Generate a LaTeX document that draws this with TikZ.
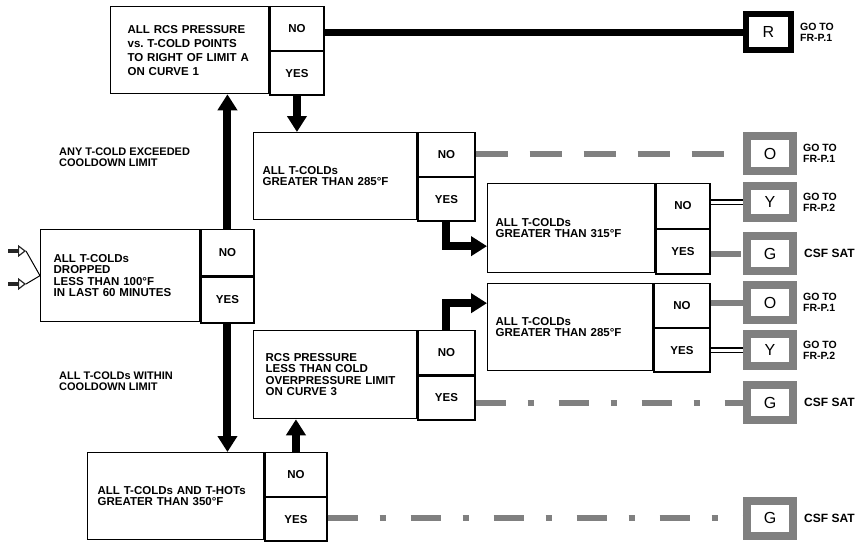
\documentclass[tikz,border=0pt]{standalone}
\usepackage{fontspec}
\setmainfont{Liberation Sans}
\usetikzlibrary{arrows.meta,calc}

\begin{document}
\begin{tikzpicture}[
  x=1pt, y=-1pt,
  font=\bfseries\fontsize{11.5}{11.5}\selectfont,
  qbox/.style={draw, line width=1.3pt, anchor=north west, align=left, inner ysep=0pt},
  cell/.style={draw, line width=1.3pt, anchor=north west, inner sep=0pt},
  bigarrow/.style={line width=8pt, -{Triangle[width=19pt,length=16pt]}},
  feed/.style={line width=3.5pt, gray!30!black, -{Triangle[open, width=12pt, length=8pt, line width=1.2pt]}},
  rline/.style={line width=7pt},
  oline/.style={line width=6pt, black!50, dash pattern=on 32pt off 22pt},
  yline/.style={draw=black, line width=1.1pt, double=white, double distance=3pt},
  gline/.style={line width=6pt, black!50, dash pattern=on 30pt off 22pt on 6pt off 25pt},
  outbox/.style={fill=white, inner sep=0pt, font=\mdseries\fontsize{16}{16}\selectfont},
  rbox/.style={outbox, draw=black, line width=6pt, minimum width=45, minimum height=36},
  obox/.style={outbox, draw=black!50, line width=8pt, minimum width=46, minimum height=35},
  ybox/.style={obox, minimum height=32, path picture={\draw[black, line width=1.4pt] ([xshift=2.5pt,yshift=-2.5pt]path picture bounding box.north west) rectangle ([xshift=-2.5pt,yshift=2.5pt]path picture bounding box.south east);}},
  note/.style={align=left, inner sep=0pt, font=\bfseries\fontsize{11}{11}\selectfont},
  goto/.style={anchor=west, align=left, inner sep=0pt, font=\bfseries\fontsize{10.5}{11}\selectfont},
  sat/.style={anchor=west, inner sep=0pt, font=\bfseries\fontsize{12}{12}\selectfont}
]
\useasboundingbox (0,0) rectangle (859,541);

% decision boxes
\foreach \n/\x/\y/\w/\cw/\h/\p/\t in {
  b1/110/6/158/54/87/17/{ALL RCS PRESSURE\\[2.5pt]vs.\ T-COLD POINTS\\[2.5pt]TO RIGHT OF LIMIT A\\[2.5pt]ON CURVE 1},
  b2/253/132/163/57/87/9/{ALL T-COLDs\\GREATER THAN 285°F},
  b3/40/229/159/53/92/13/{ALL T-COLDs\\DROPPED\\LESS THAN 100°F\\IN LAST 60 MINUTES},
  b4/487/183/167/54/89/8/{ALL T-COLDs\\GREATER THAN 315°F},
  b5/487/283/165/56/87/8/{ALL T-COLDs\\GREATER THAN 285°F},
  b6/253/330/163/57/88/12/{RCS PRESSURE\\LESS THAN COLD\\OVERPRESSURE LIMIT\\ON CURVE 3},
  b7/87/452/176/62/87/10/{ALL T-COLDs AND T-HOTs\\GREATER THAN 350°F}} {
  \node[qbox, minimum width=\w, minimum height=\h, inner xsep=\p, text width=\w-2*\p] (\n) at (\x,\y) {\t};
  \node[cell, minimum width=\cw, minimum height=\h/2] (\n-no) at (\n.north east) {NO};
  \node[cell, minimum width=\cw, minimum height=\h/2] (\n-yes) at (\n-no.south west) {YES};
}

% colour-coded exits
\node[rbox] (r1) at (768.5,32) {R};
\foreach \n/\s/\l/\y in {o1/obox/O/153.5, y1/ybox/Y/202, g1/obox/G/253.5, o2/obox/O/302.5, y2/ybox/Y/350, g2/obox/G/402.5, g3/obox/G/518} {
  \node[\s] (\n) at (770,\y) {\l};
}
\node[goto] (lr1) at ([xshift=6pt]r1.east) {GO TO\\FR-P.1};
\foreach \n/\t in {o1/{GO TO\\FR-P.1}, y1/{GO TO\\FR-P.2}, o2/{GO TO\\FR-P.1}, y2/{GO TO\\FR-P.2}} {
  \node[goto] (l\n) at ([xshift=6pt]\n.east) {\t};
}
\foreach \n in {g1,g2,g3} {
  \node[sat] (l\n) at ([xshift=7pt]\n.east) {CSF SAT};
}

% branch labels
\node[note, anchor=north west] (exceed) at (59,148) {ANY T-COLD EXCEEDED\\COOLDOWN LIMIT};
\node[note, anchor=north west] (within) at (59,372) {ALL T-COLDs WITHIN\\COOLDOWN LIMIT};

% entry
\coordinate (in1) at (8,251);
\coordinate (k1) at (26,251);
\coordinate (in2) at (8,284);
\coordinate (k2) at (26,284);
\draw[feed] (in1) -- (k1);
\draw[feed] (in2) -- (k2);
\draw[line width=1pt] (k1) -- (b3.west) -- (k2);

% flow arrows
\draw[bigarrow] (b1-yes.south) -- (b1-yes.south |- b2.north);
\draw[bigarrow] (b3-no.north) -- (b3-no.north |- b1.south);
\draw[bigarrow] (b3-yes.south) -- (b3-yes.south |- b7.north);
\draw[bigarrow] (b2-yes.south) |- ($(b4.west)+(0,18)$);
\draw[bigarrow] (b6-no.north) |- ($(b5.west)+(0,-24)$);
\draw[bigarrow] (b7-no.north) -- (b7-no.north |- b6.south);

% exits
\draw[rline] (b1-no.east |- r1) -- (r1.west);
\draw[oline] (b2-no.east |- o1) -- (o1.west);
\draw[yline] (b4-no.east |- y1) -- (y1.west);
\draw[gline] (b4-yes.east |- g1) -- (g1.west);
\draw[oline] (b5-no.east |- o2) -- (o2.west);
\draw[yline] (b5-yes.east |- y2) -- (y2.west);
\draw[gline] (b6-yes.east |- g2) -- (g2.west);
\draw[gline] (b7-yes.east |- g3) -- (g3.west);
\end{tikzpicture}
\end{document}
